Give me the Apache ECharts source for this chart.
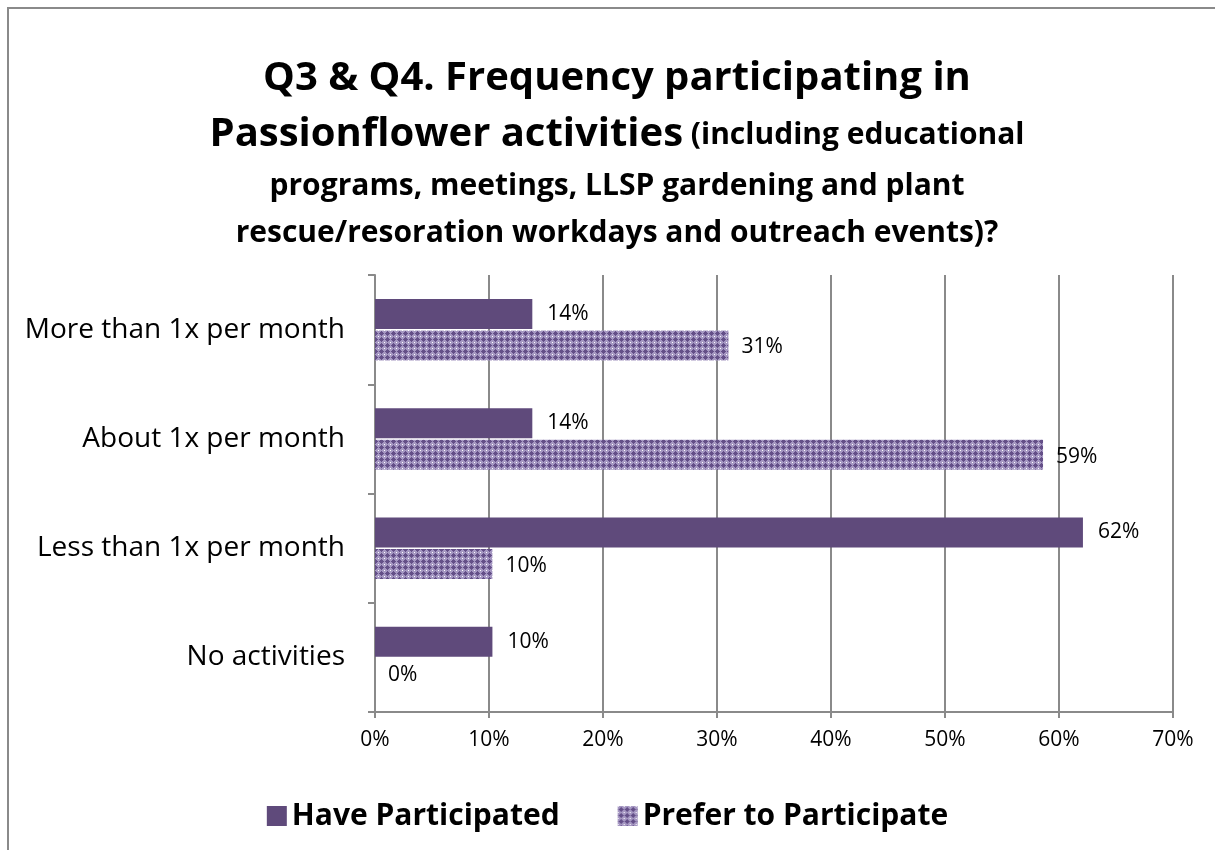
<!DOCTYPE html>
<html>
<head>
<meta charset="utf-8">
<script src="https://cdn.jsdelivr.net/npm/echarts@6/dist/echarts.min.js"></script>
<style>
  html, body { margin: 0; padding: 0; background: #fff; }
  #chart { width: 1215px; height: 850px; }
</style>
</head>
<body>
<div id="chart"></div>
<script>
// categories, top to bottom
var categories = ['More than 1x per month', 'About 1x per month', 'Less than 1x per month', 'No activities']
var haveParticipated = [13.8, 13.8, 62.1, 10.3]
var preferToParticipate = [31.0, 58.6, 10.3, 0]
var tickLabels = ['0%', '10%', '20%', '30%', '40%', '50%', '60%', '70%']

// hatched fill for the second series (diamond lattice with white dots)
function makePattern() {
  var c = document.createElement('canvas')
  c.width = 6
  c.height = 6
  var ctx = c.getContext('2d')
  ctx.fillStyle = '#a597c2'
  ctx.fillRect(0, 0, 6, 6)
  ctx.fillStyle = '#644f88'
  var dark = [[3, 1], [2, 2], [3, 2], [4, 2], [1, 3], [2, 3], [3, 3], [4, 3], [5, 3], [2, 4], [3, 4], [4, 4], [3, 5]]
  dark.forEach(function (p) { ctx.fillRect(p[0], p[1], 1, 1) })
  ctx.fillStyle = '#ffffff'
  ctx.fillRect(0, 0, 1, 1)
  return c
}
var pattern = { image: makePattern(), repeat: 'repeat' }

var fontMain = 'Open Sans'
var chart = echarts.init(document.getElementById('chart'))

var option = {
  animation: false,
  title: {
    text: '{a|Q3 & Q4. Frequency participating in}\n{a|Passionflower activities}{b| (including educational}\n{b|programs, meetings, LLSP gardening and plant}\n{b|rescue/resoration workdays and outreach events)?}',
    left: 612,
    top: 46,
    textAlign: 'center',
    textStyle: {
      rich: {
        a: { fontFamily: fontMain, fontSize: 40, fontWeight: 'bold', color: '#000', lineHeight: 56 },
        b: { fontFamily: fontMain, fontSize: 30, fontWeight: 'bold', color: '#000', lineHeight: 47 }
      }
    }
  },
  legend: {
    top: 796,
    left: 'center',
    itemGap: 58,
    itemWidth: 20,
    itemHeight: 20,
    icon: 'rect',
    textStyle: { fontFamily: fontMain, fontSize: 30, fontWeight: 'bold', color: '#000' },
    data: ['Have Participated', 'Prefer to Participate']
  },
  graphic: [{
    type: 'rect',
    shape: { x: 8, y: 8, width: 1240, height: 870 },
    style: { fill: 'none', stroke: '#8a8a8a', lineWidth: 2 },
    silent: true
  }],
  grid: { left: 375, right: 42, top: 275, bottom: 138 },
  xAxis: {
    type: 'value',
    min: 0,
    max: 70,
    interval: 10,
    axisLine: { show: true, lineStyle: { color: '#8a8a8a', width: 2 } },
    axisTick: { show: true, length: 6, lineStyle: { color: '#8a8a8a', width: 2 } },
    splitLine: { show: true, lineStyle: { color: '#8a8a8a', width: 2 } },
    axisLabel: {
      margin: 18,
      fontFamily: fontMain,
      fontSize: 21,
      color: '#000',
      formatter: function (v) { return tickLabels[Math.round(v / 10)] }
    }
  },
  yAxis: {
    type: 'category',
    inverse: true,
    data: categories,
    axisLine: { show: true, lineStyle: { color: '#8a8a8a', width: 2 } },
    axisTick: { show: true, length: 7, lineStyle: { color: '#8a8a8a', width: 2 } },
    axisLabel: { margin: 30, fontFamily: fontMain, fontSize: 28, color: '#000' }
  },
  series: [
    {
      name: 'Have Participated',
      type: 'bar',
      data: haveParticipated,
      barWidth: 30,
      barGap: '5%',
      barCategoryGap: '43%',
      itemStyle: { color: '#5f4a7b' },
      label: {
        show: true,
        position: 'right',
        distance: 15,
        fontFamily: fontMain,
        fontSize: 21,
        color: '#000',
        offset: [0, 0],
        formatter: function (p) { return Math.round(p.value) + '%' }
      }
    },
    {
      name: 'Prefer to Participate',
      type: 'bar',
      data: preferToParticipate,
      barWidth: 30,
      itemStyle: { color: pattern },
      label: {
        show: true,
        position: 'right',
        distance: 13,
        fontFamily: fontMain,
        fontSize: 21,
        color: '#000',
        offset: [0, 2],
        formatter: function (p) { return Math.round(p.value) + '%' }
      }
    }
  ]
}
chart.setOption(option)
</script>
</body>
</html>
